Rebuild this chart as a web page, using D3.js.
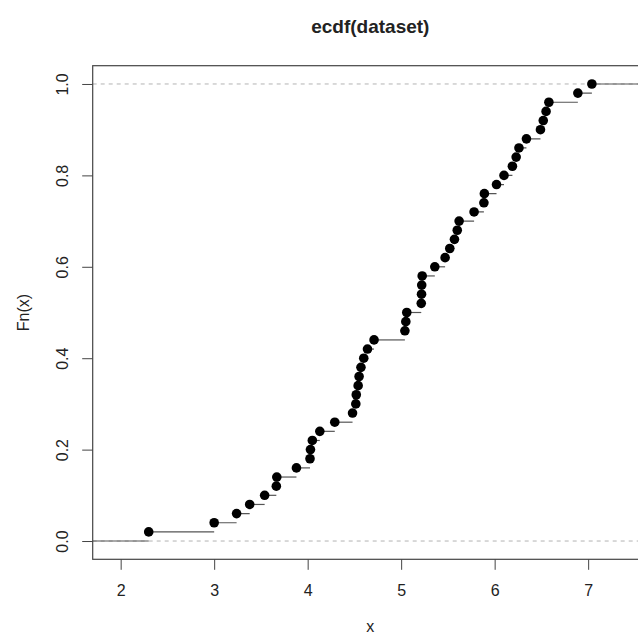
<!DOCTYPE html>
<html>
<head>
<meta charset="utf-8">
<script src="https://cdn.jsdelivr.net/npm/d3@7"></script>
<style>
  body { margin: 0; background: #fff; }
  svg { display: block; font-family: "Liberation Sans", Arial, sans-serif; }
</style>
</head>
<body>
<svg id="chart" width="638" height="637"></svg>
<script>
// observed sample values (sorted)
const dataset = [
  2.30, 3.00, 3.24, 3.38, 3.54, 3.665, 3.67, 3.88, 4.025, 4.03,
  4.05, 4.13, 4.29, 4.48, 4.515, 4.52, 4.54, 4.55, 4.57, 4.60,
  4.64, 4.71, 5.04, 5.05, 5.06, 5.215, 5.218, 5.22, 5.225, 5.36,
  5.47, 5.52, 5.57, 5.60, 5.62, 5.78, 5.885, 5.89, 6.02, 6.10,
  6.19, 6.23, 6.26, 6.34, 6.49, 6.52, 6.55, 6.58, 6.89, 7.04
];
const xTicks = [2, 3, 4, 5, 6, 7];
const yTicks = [0, 0.2, 0.4, 0.6, 0.8, 1.0];

const svg = d3.select('#chart');

// plot region (R style: usr extends 4% past xlim/ylim)
const box = { left: 92.7, right: 647.9, top: 65.7, bottom: 559.3 };

const knots = dataset.slice().sort(d3.ascending);
const n = knots.length;
const rx = d3.extent(knots);
const dr = Math.max(0.08 * (rx[1] - rx[0]), d3.median(d3.pairs(knots, (a, b) => b - a)));
const xlim = [rx[0] - dr, rx[1] + dr];
const pad = 0.04 * (xlim[1] - xlim[0]);

const x = d3.scaleLinear()
  .domain([xlim[0] - pad, xlim[1] + pad])
  .range([box.left, box.right]);

const y = d3.scaleLinear()
  .domain([-0.04, 1.04])
  .range([box.bottom, box.top]);

// step levels
const steps = knots.map((k, i) => ({ x: k, y: (i + 1) / n }));

svg.append('clipPath')
    .attr('id', 'plot-clip')
  .append('rect')
    .attr('x', box.left)
    .attr('y', box.top)
    .attr('width', box.right - box.left)
    .attr('height', box.bottom - box.top);

const plot = svg.append('g')
    .attr('clip-path', 'url(#plot-clip)');

// reference lines at 0 and 1
plot.selectAll('line.ref')
    .data([0, 1])
  .enter()
  .append('line')
    .attr('class', 'ref')
    .attr('x1', box.left)
    .attr('x2', box.right)
    .attr('y1', (d) => y(d))
    .attr('y2', (d) => y(d))
    .attr('stroke', '#b3b3b3')
    .attr('stroke-dasharray', '4,4');

// horizontal segments
const ti = [xlim[0] - dr].concat(knots, [xlim[1] + dr]);
const segs = d3.range(ti.length - 1).map((i) => ({ x1: ti[i], x2: ti[i + 1], y: i / n }));

plot.selectAll('line.seg')
    .data(segs)
  .enter()
  .append('line')
    .attr('class', 'seg')
    .attr('x1', (d) => x(d.x1))
    .attr('x2', (d) => x(d.x2))
    .attr('y1', (d) => y(d.y))
    .attr('y2', (d) => y(d.y))
    .attr('stroke', '#555')
    .attr('stroke-width', 1.2);

// step points
plot.selectAll('circle')
    .data(steps)
  .enter()
  .append('circle')
    .attr('cx', (d) => x(d.x))
    .attr('cy', (d) => y(d.y))
    .attr('r', 4.8)
    .attr('fill', '#000');

// box
svg.append('rect')
    .attr('x', box.left)
    .attr('y', box.top)
    .attr('width', box.right - box.left)
    .attr('height', box.bottom - box.top)
    .attr('fill', 'none')
    .attr('stroke', '#444')
    .attr('stroke-width', 1.2);

// x axis
const xAxis = svg.append('g')
    .attr('transform', `translate(0, ${box.bottom})`)
    .call(d3.axisBottom(x).tickValues(xTicks).tickSize(10.5).tickFormat(d3.format('d')));

// y axis
const yAxis = svg.append('g')
    .attr('transform', `translate(${box.left}, 0)`)
    .call(d3.axisLeft(y).tickValues(yTicks).tickSize(10.5).tickFormat(d3.format('.1f')));

[xAxis, yAxis].forEach((g) => {
  g.select('.domain').remove();
  g.selectAll('.tick line').attr('stroke', '#444');
  g.selectAll('.tick text')
      .attr('fill', '#222')
      .style('font-size', '16px')
      .style('font-family', '"Liberation Sans", Arial, sans-serif');
});

// rotated y tick labels like R
yAxis.selectAll('.tick text')
    .attr('x', null)
    .attr('text-anchor', 'middle')
    .attr('transform', 'translate(-30, 0) rotate(-90)')
    .attr('dy', '0.35em');

xAxis.selectAll('.tick text')
    .attr('y', 25)
    .attr('dy', '0.71em');

// title and labels
svg.append('text')
    .attr('x', (box.left + box.right) / 2)
    .attr('y', 33)
    .attr('text-anchor', 'middle')
    .style('font-size', '19px')
    .style('font-weight', 'bold')
    .attr('fill', '#222')
    .text('ecdf(dataset)');

svg.append('text')
    .attr('x', (box.left + box.right) / 2)
    .attr('y', 632)
    .attr('text-anchor', 'middle')
    .style('font-size', '16px')
    .attr('fill', '#222')
    .text('x');

svg.append('text')
    .attr('transform', `translate(23, ${(box.top + box.bottom) / 2}) rotate(-90)`)
    .attr('text-anchor', 'middle')
    .attr('dy', '0.35em')
    .style('font-size', '16px')
    .attr('fill', '#222')
    .text('Fn(x)');
</script>
</body>
</html>
